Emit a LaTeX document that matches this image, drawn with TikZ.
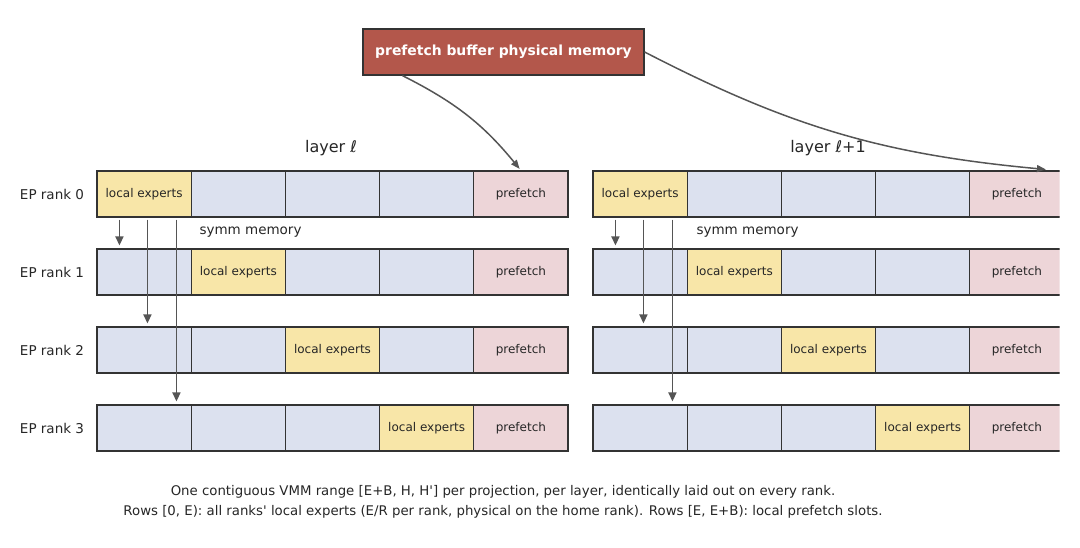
\documentclass[tikz,border=0pt]{standalone}
\usepackage{fontspec}
\setmainfont{DejaVu Sans}
\usetikzlibrary{positioning, arrows.meta, calc}

\definecolor{expcol}{HTML}{F8E6A8}
\definecolor{slotcol}{HTML}{DCE1EF}
\definecolor{pfcol}{HTML}{EDD5D8}
\definecolor{bufcol}{HTML}{B3574B}
\definecolor{edgecol}{HTML}{333333}
\definecolor{arrcol}{HTML}{555555}
\definecolor{txtcol}{HTML}{262626}

\tikzset{
  cell/.style={draw=edgecol, line width=1.1pt, minimum width=94.2pt, minimum height=46pt,
    inner sep=0pt, text=txtcol, font=\fontsize{12}{14}\selectfont},
  expcell/.style={cell, fill=expcol},
  slotcell/.style={cell, fill=slotcol},
  pfcell/.style={cell, fill=pfcol},
  ranklabel/.style={text=txtcol, font=\fontsize{13.5}{16}\selectfont},
  flow/.style={draw=arrcol, line width=1.6pt, -{Triangle[length=9pt,width=8pt]}},
  bufflow/.style={draw=arrcol, line width=1.5pt, -{Triangle[length=9pt,width=7pt]}}
}

\begin{document}
\begin{tikzpicture}[x=1pt, y=-1pt]
  \useasboundingbox (0,0) rectangle (1080,548);

  % Prefetch buffer
  \node[draw=edgecol, line width=1.2pt, fill=bufcol, text=white, minimum width=281pt,
    minimum height=46pt, font=\fontsize{13.9}{16}\selectfont\bfseries] (buf) at (503.5,52)
    {prefetch buffer physical memory};

  % Layer titles
  \node[text=txtcol, font=\fontsize{16}{18}\selectfont] (titleL) at (331,148) {layer \textit{ℓ}};
  \node[text=txtcol, font=\fontsize{16}{18}\selectfont] (titleR) at (828,148) {layer \textit{ℓ}+1};

  % Rank labels
  \foreach \r in {0,...,3}
    \node[ranklabel] (rank\r) at (52,{194+78*\r}) {EP rank \r};

  % Layer l grid
  \foreach \r in {0,...,3}
    \foreach \c in {0,...,4} {
      \ifnum\c=4
        \node[pfcell] (L\r\c) at ({144.1+94.2*\c},{194+78*\r}) {prefetch};
      \else\ifnum\c=\r
        \node[expcell] (L\r\c) at ({144.1+94.2*\c},{194+78*\r}) {local experts};
      \else
        \node[slotcell] (L\r\c) at ({144.1+94.2*\c},{194+78*\r}) {};
      \fi\fi
    }

  % Layer l+1 grid (cut at the right edge)
  \begin{scope}
    \clip (580,150) rectangle (1059.5,470);
    \foreach \r in {0,...,3}
      \foreach \c in {0,...,4} {
        \ifnum\c=4
          \node[pfcell] (R\r\c) at ({640.1+94.2*\c},{194+78*\r}) {prefetch};
        \else\ifnum\c=\r
          \node[expcell] (R\r\c) at ({640.1+94.2*\c},{194+78*\r}) {local experts};
        \else
          \node[slotcell] (R\r\c) at ({640.1+94.2*\c},{194+78*\r}) {};
        \fi\fi
      }
  \end{scope}

  % symm memory
  \node[text=txtcol, font=\fontsize{13.5}{15}\selectfont, anchor=west] (symmL) at (196,232) {symm memory};
  \node[text=txtcol, font=\fontsize{13.5}{15}\selectfont, anchor=west] (symmR) at (693,232) {symm memory};

  % Peer reads from rank 0
  \foreach \g/\r/\dx in {L/1/23, L/2/51, L/3/80, R/1/23, R/2/51, R/3/80}
    \draw[flow, shorten <=2pt, shorten >=3pt]
      ($(\g00.south west)+(\dx,0)$) -- ($(\g\r0.north west)+(\dx,0)$);

  % Buffer mapped into both layers
  \coordinate (bufL) at ($(buf.south west)+(40,0)$);
  \coordinate (pfR) at ($(R04.north)+(29,-1)$);
  \draw[bufflow, shorten >=2pt] (bufL) to[bend left=12] (L04.north);
  \draw[bufflow] (buf.east) to[bend right=11] (pfR);

  % Caption
  \node[text=txtcol, font=\fontsize{13.3}{19.5}\selectfont, align=center] (note) at (503,502)
    {One contiguous VMM range [E+B, H, H\textquotesingle] per projection, per layer, identically laid out on every rank.\\
     Rows [0, E): all ranks\textquotesingle\ local experts (E/R per rank, physical on the home rank). Rows [E, E+B): local prefetch slots.};
\end{tikzpicture}
\end{document}
